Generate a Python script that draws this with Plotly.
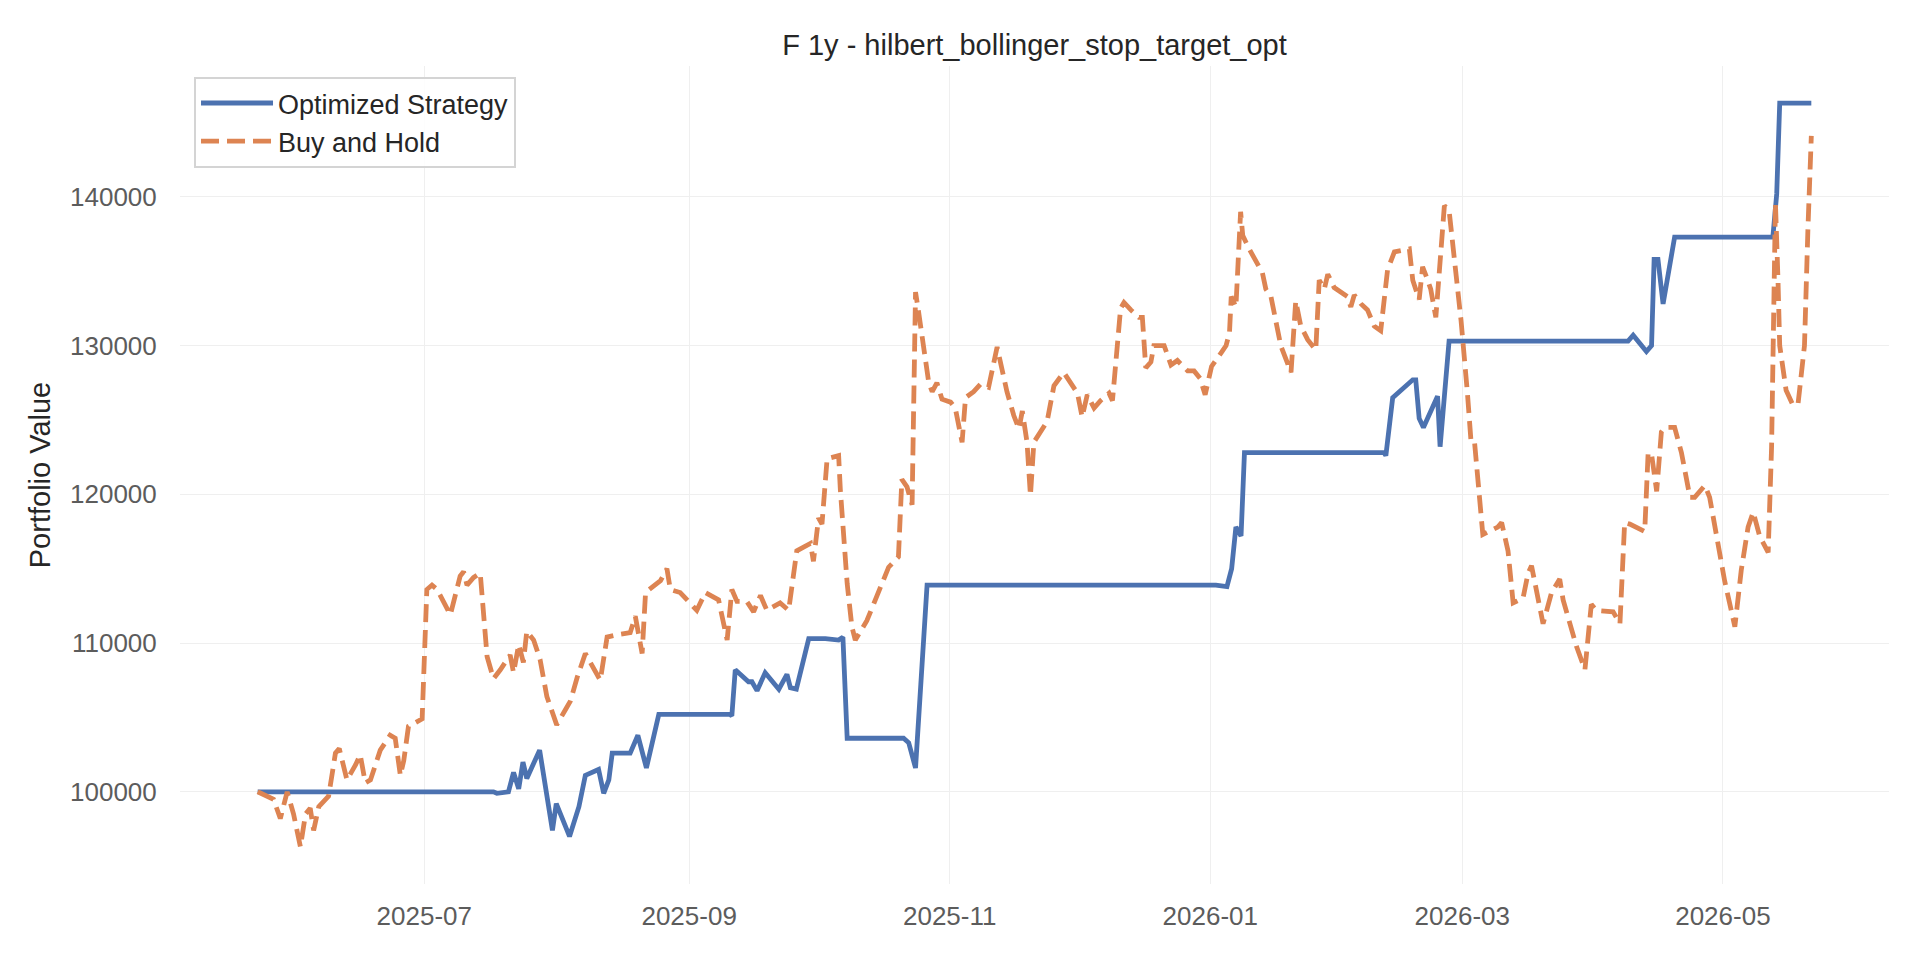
import pandas as pd
import plotly.graph_objects as go

START_DATE = "2025-05-23"
TITLE = "F 1y - hilbert_bollinger_stop_target_opt"
Y_LABEL = "Portfolio Value"
SERIES_NAMES = ["Optimized Strategy", "Buy and Hold"]
Y_TICKS = [100000, 110000, 120000, 130000, 140000]

# Days since START_DATE and portfolio values
strat_day = [0, 55.2, 56, 58.7, 59.9, 61.1, 62.1, 63, 66, 69, 69.9, 73, 75.2, 76.7, 79.8, 81,
             82.2, 83, 87.2, 89, 91, 93.9, 110.6, 111, 111.8, 114.9, 115.7, 116.9, 118.8, 122,
             123.9, 124.7, 126.1, 129, 132.9, 136, 137, 138, 151.2, 152.4, 154, 156.7, 224.3,
             226.9, 228, 229, 230.2, 231, 263.7, 264.1, 265.7, 270.4, 271.1, 271.9, 272.9, 276.2,
             276.8, 278.5, 278.9, 320.8, 322, 325.1, 326.3, 326.9, 327.8, 329, 331.7, 354.7,
             355.6, 356.3, 363.7]
strat_val = [100000, 100000, 99900, 100000, 101300, 100200, 102000, 100900, 102800, 97400, 99200,
             97000, 99000, 101100, 101500, 99900, 100800, 102600, 102600, 103800, 101600, 105200,
             105200, 105100, 108200, 107400, 107400, 106800, 108000, 106900, 107900, 107000,
             106900, 110300, 110300, 110200, 110400, 103600, 103600, 103300, 101600, 113900,
             113900, 113800, 115000, 117800, 117200, 122800, 122800, 122600, 126500, 127700,
             127700, 125100, 124500, 126600, 123200, 128400, 130300, 130300, 130700, 129600,
             130000, 135800, 135800, 132800, 137300, 137300, 140200, 146300, 146300]

bh_day = [0, 3.7, 5.3, 6.9, 8.4, 10, 11.2, 12.3, 13.1, 14.3, 16.6, 18.2, 19.1, 20.9, 22.9, 24,
          25.2, 26.4, 28.7, 31, 32.2, 33.4, 34.2, 35.3, 38.5, 39.6, 40.8, 42, 45.1, 47.4, 48.2,
          49, 50.5, 52.1, 53.7, 55.2, 56.8, 59.1, 59.9, 61.1, 62.2, 63, 64.6, 66.1, 67.7, 68.9,
          70, 72, 73.2, 74.8, 76.7, 80.2, 81.8, 84.9, 87.2, 88.4, 90, 90.8, 94.3, 95.8, 96.6,
          98.9, 102.8, 104.8, 107.9, 109.9, 111, 112.2, 114.5, 116.1, 117.7, 119.2, 122.3,
          124.3, 126.2, 129.4, 130.1, 131.3, 132.1, 133.3, 136, 136.4, 138, 139.1, 139.9,
          142.6, 146.1, 147.7, 150, 150.8, 152, 153.2, 153.4, 154, 154.7, 155.5, 157.1, 157.9,
          159, 160.2, 162.2, 163.3, 164.9, 165.7, 167.6, 169.2, 171.1, 173.1, 173.9, 175.4,
          177, 178.2, 179, 180.1, 180.9, 181.7, 184.8, 186.4, 188.7, 191.9, 193, 194.2, 195.8,
          197.3, 199.3, 200.1, 202, 202.8, 204.4, 206.3, 207.1, 207.9, 209.1, 209.8, 212.2,
          213.8, 215.3, 217.7, 219.2, 220.6, 221.8, 223.3, 225.5, 226.7, 227.5, 227.9, 229,
          230.1, 230.6, 232.1, 235.2, 236, 237.2, 239.5, 241.9, 243, 244.2, 245.8, 247.7,
          248.5, 249.7, 250.5, 252, 255.1, 255.9, 256.7, 258.3, 259.8, 261.4, 262.9, 264.5,
          266.1, 269.6, 270.4, 271.9, 272.7, 273.9, 274.6, 275.8, 276.6, 277.8, 278.9, 280.1,
          281.7, 283.2, 284, 284.8, 285.6, 286.8, 290.3, 291.2, 292.7, 293.9, 296.2, 297.4,
          298.2, 299.4, 300.9, 302.9, 304.8, 305.6, 307.2, 308.7, 310.7, 312.2, 313.4, 317.3,
          318.9, 320, 321.2, 324.7, 325.5, 326.3, 327.5, 328.6, 329.4, 331.7, 333.3, 335.3,
          336.4, 338.8, 339.9, 341.5, 343.4, 345.8, 347.3, 348.9, 350.1, 351.6, 353.6, 354.4,
          355.3, 355.9, 356.3, 357.8, 359.4, 360.6, 362.1, 362.9, 363.7]
bh_val = [100000, 99500, 98200, 100000, 98500, 96300, 98500, 98900, 97400, 99000, 99700, 102600,
          102900, 100800, 101800, 102500, 100600, 100800, 102800, 103800, 103600, 101100, 102100,
          104400, 104900, 113600, 113900, 113600, 111900, 114500, 114800, 113900, 114400, 114700,
          109100, 107600, 108200, 109200, 108000, 109900, 108700, 110800, 110200, 108900, 106400,
          105400, 104500, 105500, 106100, 107700, 109300, 107500, 110400, 110600, 110700, 111800,
          109300, 113400, 114200, 115000, 113600, 113400, 112200, 113400, 112900, 110200, 113600,
          112800, 112800, 112100, 113200, 112200, 112700, 112200, 116200, 116700, 115500, 118400,
          118000, 122400, 122600, 120300, 114000, 111100, 110200, 111500, 114000, 115100, 115800,
          121000, 120500, 119300, 123000, 133600, 132300, 130500, 127500, 126900, 127500, 126400,
          126200, 125800, 123500, 126500, 126900, 127400, 127200, 129900, 128900, 126900, 125300,
          124400, 125600, 123500, 119900, 123500, 124900, 127300, 128200, 126800, 125200, 126700,
          125800, 126300, 126800, 126300, 132500, 132900, 132400, 131900, 131900, 128500, 128900,
          130000, 130000, 128700, 129000, 128300, 128300, 127800, 126700, 128600, 129500, 130000,
          130900, 133300, 132600, 139000, 137400, 136500, 134900, 133800, 133300, 130000, 128200,
          133000, 131300, 130400, 129700, 134400, 133800, 134800, 133900, 133300, 132600, 133400,
          132800, 132400, 131300, 131000, 135100, 136300, 136500, 134400, 133100, 135300, 134400,
          133800, 131900, 135100, 139400, 139100, 136200, 131700, 126800, 123700, 123700, 121000,
          117300, 117800, 118100, 116200, 112700, 113000, 114700, 115200, 113400, 111300, 113400,
          114300, 112900, 111300, 109800, 108200, 112600, 112200, 112100, 111300, 118100, 118000,
          117500, 122800, 122700, 120200, 124200, 124500, 124500, 122800, 119800, 119800, 120600,
          119800, 117200, 114200, 111100, 114900, 117800, 118800, 117200, 116100, 123200, 139600,
          134400, 130000, 127000, 126000, 126100, 130000, 137800, 144100]

start = pd.Timestamp(START_DATE)
strat_x = start + pd.to_timedelta(strat_day, unit="D")
bh_x = start + pd.to_timedelta(bh_day, unit="D")

BLUE = "#4c72b0"
ORANGE = "#dd8452"
FONT = "Liberation Sans, Arial, sans-serif"

fig = go.Figure()
fig.add_trace(go.Scatter(x=strat_x, y=strat_val, mode="lines", name=SERIES_NAMES[0],
                         line=dict(color=BLUE, width=4.8)))
fig.add_trace(go.Scatter(x=bh_x, y=bh_val, mode="lines", name=SERIES_NAMES[1],
                         line=dict(color=ORANGE, width=4.8, dash="18px,8px")))

# matplotlib-style 5% margins
all_days = strat_day + bh_day
dmin, dmax = min(all_days), max(all_days)
span = dmax - dmin
x_range = [start + pd.Timedelta(days=dmin - 0.05 * span), start + pd.Timedelta(days=dmax + 0.05 * span)]
all_vals = strat_val + bh_val
vmin, vmax = min(all_vals), max(all_vals)
vspan = vmax - vmin
y_range = [vmin - 0.05 * vspan, vmax + 0.05 * vspan]

fig.update_layout(
    width=1920, height=960,
    margin=dict(l=180, r=31, t=66, b=76),
    paper_bgcolor="white", plot_bgcolor="white",
    font=dict(family=FONT, size=26, color="#262626"),
    title=dict(text=TITLE, x=0.5, xref="paper", xanchor="center",
               y=1 - 45 / 960, yref="container", yanchor="middle",
               font=dict(size=29, color="#262626")),
    legend=dict(x=0.0082, y=0.9866, xanchor="left", yanchor="top",
                bgcolor="rgba(255,255,255,0.85)", bordercolor="#d4d4d4", borderwidth=2,
                font=dict(size=27, color="#262626"), itemwidth=72,
                tracegroupgap=0),
    showlegend=True,
)
fig.update_xaxes(
    range=x_range, type="date", tick0="2025-07-01", dtick="M2", tickformat="%Y-%m",
    showgrid=True, gridcolor="#efefef", gridwidth=1.3, zeroline=False, showline=False,
    ticks="outside", ticklen=9, tickcolor="rgba(0,0,0,0)",
    tickfont=dict(size=26, color="#5c5c5c"),
)
fig.update_yaxes(
    range=y_range, tickvals=Y_TICKS, tickformat="d",
    showgrid=True, gridcolor="#efefef", gridwidth=1.3, zeroline=False, showline=False,
    ticks="outside", ticklen=17, tickcolor="rgba(0,0,0,0)",
    tickfont=dict(size=26, color="#5c5c5c"),
    title=dict(text=Y_LABEL, standoff=10, font=dict(size=29, color="#262626")),
)

fig.write_html("out.html", config={"displayModeBar": False},
               post_script="document.body.style.margin='0';document.body.style.padding='0';")
